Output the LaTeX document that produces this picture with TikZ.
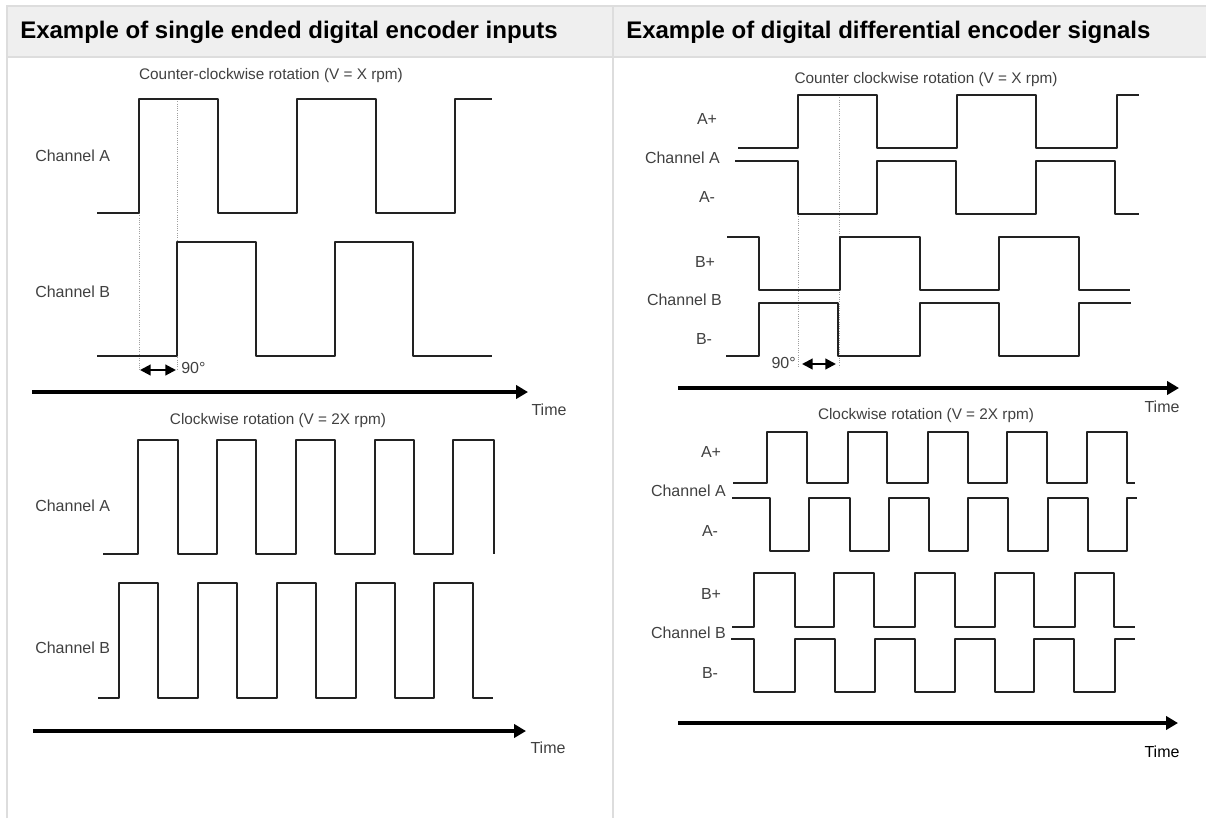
\documentclass[tikz,border=0pt]{standalone}
\usepackage{fontspec}
\setmainfont{Liberation Sans}
\usepackage{tikz}
\usetikzlibrary{arrows.meta, positioning}
\usepackage{xcolor}
\definecolor{gridline}{HTML}{DDDDDD}
\definecolor{headfill}{HTML}{EFEFEF}
\definecolor{wavecol}{HTML}{222222}
\definecolor{labelcol}{HTML}{404040}

\begin{document}
\begin{tikzpicture}[x=0.75pt, y=-0.75pt,
    wave/.style={draw=wavecol, line width=2pt, line join=round},
    dotline/.style={draw=gray!75, line width=0.7pt, densely dotted},
    timeaxis/.style={draw=black, line width=2.5pt, -{Triangle[length=9pt,width=10pt]}},
    phase/.style={draw=black, line width=1.6pt, {Triangle[length=8pt,width=8pt]}-{Triangle[length=8pt,width=8pt]}},
    lbl/.style={inner sep=0pt, text=labelcol, font=\fontsize{12}{14}\selectfont},
    ttl/.style={lbl, font=\fontsize{11.5}{14}\selectfont},
    hdr/.style={inner sep=0pt, anchor=west, font=\fontsize{18}{22}\selectfont\bfseries}]
    \useasboundingbox (0,0) rectangle (1206,818);

    % table frame
    \fill[headfill] (8,7) rectangle (1206,56);
    \draw[gridline, line width=1.5pt] (7,818) -- (7,6) -- (1206,6);
    \draw[gridline, line width=1.5pt] (7,57) -- (1206,57);
    \draw[gridline, line width=1.5pt] (613,6) -- (613,818);
    \node[hdr] (head-se) at (20,32) {Example of single ended digital encoder inputs};
    \node[hdr] (head-df) at (626,32) {Example of digital differential encoder signals};

    % single ended, counter-clockwise
    \node[ttl] (ttl-se-ccw) at (271,76) {Counter-clockwise rotation (V = X rpm)};
    \node[lbl, anchor=west] (se-ccw-a) at (35,156) {Channel A};
    \node[lbl, anchor=west] (se-ccw-b) at (35,292) {Channel B};
    \draw[dotline] (139,213) -- (139,370);
    \draw[dotline] (177,99) -- (177,370);
    \draw[wave] (97,213) -| (139,99) -| (218,213) -| (297,99) -| (376,213) -| (455,99) -- (492,99);
    \draw[wave] (97,356) -| (177,242) -| (256,356) -| (335,242) -| (413,356) -- (492,356);
    \coordinate (se-ccw-p0) at (140,370);
    \coordinate (se-ccw-p1) at (176,370);
    \draw[phase] (se-ccw-p0) -- (se-ccw-p1);
    \node[lbl, anchor=west] (se-ccw-deg) at (181,368) {90°};
    \coordinate (se-ccw-t0) at (32,392);
    \coordinate (se-ccw-t1) at (528,392);
    \draw[timeaxis] (se-ccw-t0) -- (se-ccw-t1);
    \node[lbl] (se-ccw-time) at (549,410) {Time};

    % single ended, clockwise
    \node[ttl] (ttl-se-cw) at (278,421) {Clockwise rotation (V = 2X rpm)};
    \node[lbl, anchor=west] (se-cw-a) at (35,506) {Channel A};
    \node[lbl, anchor=west] (se-cw-b) at (35,648) {Channel B};
    \draw[wave] (103,554) -| (138,440) -| (178,554) -| (217,440) -| (256,554) -| (296,440)
        -| (335,554) -| (375,440) -| (414,554) -| (453,440) -| (494,554);
    \draw[wave] (98,698) -| (119,583) -| (158,698) -| (198,583) -| (237,698) -| (277,583)
        -| (316,698) -| (356,583) -| (395,698) -| (434,583) -| (473,698) -- (493,698);
    \coordinate (se-cw-t0) at (33,731);
    \coordinate (se-cw-t1) at (526,731);
    \draw[timeaxis] (se-cw-t0) -- (se-cw-t1);
    \node[lbl] (se-cw-time) at (548,748) {Time};

    % differential, counter clockwise
    \node[ttl] (ttl-df-ccw) at (926,80) {Counter clockwise rotation (V = X rpm)};
    \node[lbl] (df-ccw-ap) at (707,119) {A+};
    \node[lbl, anchor=east] (df-ccw-a) at (720,158) {Channel A};
    \node[lbl] (df-ccw-am) at (707,197) {A-};
    \node[lbl] (df-ccw-bp) at (705,262) {B+};
    \node[lbl, anchor=east] (df-ccw-b) at (722,300) {Channel B};
    \node[lbl] (df-ccw-bm) at (704,339) {B-};
    \draw[dotline] (798,214) -- (798,367);
    \draw[dotline] (839,95) -- (839,367);
    \draw[wave] (738,148) -| (798,95) -| (877,148) -| (957,95) -| (1036,148) -| (1117,95) -- (1139,95);
    \draw[wave] (735,161) -| (798,214) -| (877,161) -| (956,214) -| (1036,161) -| (1115,214) -- (1139,214);
    \draw[wave] (727,237) -| (759,290) -| (840,237) -| (920,290) -| (999,237) -| (1079,290) -- (1130,290);
    \draw[wave] (726,356) -| (759,303) -| (838,356) -| (920,303) -| (999,356) -| (1079,303) -- (1131,303);
    \coordinate (df-ccw-p0) at (802,364);
    \coordinate (df-ccw-p1) at (836,364);
    \draw[phase] (df-ccw-p0) -- (df-ccw-p1);
    \node[lbl, anchor=east] (df-ccw-deg) at (796,363) {90°};
    \coordinate (df-ccw-t0) at (678,388);
    \coordinate (df-ccw-t1) at (1179,388);
    \draw[timeaxis] (df-ccw-t0) -- (df-ccw-t1);
    \node[lbl] (df-ccw-time) at (1162,407) {Time};

    % differential, clockwise
    \node[ttl] (ttl-df-cw) at (926,416) {Clockwise rotation (V = 2X rpm)};
    \node[lbl] (df-cw-ap) at (711,452) {A+};
    \node[lbl, anchor=east] (df-cw-a) at (726,491) {Channel A};
    \node[lbl] (df-cw-am) at (710,531) {A-};
    \node[lbl] (df-cw-bp) at (711,594) {B+};
    \node[lbl, anchor=east] (df-cw-b) at (726,633) {Channel B};
    \node[lbl] (df-cw-bm) at (710,673) {B-};
    \draw[wave] (733,483) -| (767,432) -| (807,483) -| (848,432) -| (887,483) -| (928,432)
        -| (968,483) -| (1007,432) -| (1047,483) -| (1087,432) -| (1127,483) -- (1135,483);
    \draw[wave] (732,498) -| (770,551) -| (809,498) -| (850,551) -| (889,498) -| (929,551)
        -| (968,498) -| (1008,551) -| (1048,498) -| (1088,551) -| (1127,498) -- (1137,498);
    \draw[wave] (732,627) -| (754,573) -| (795,627) -| (834,573) -| (874,627) -| (915,573)
        -| (955,627) -| (995,573) -| (1034,627) -| (1075,573) -| (1114,627) -- (1135,627);
    \draw[wave] (731,639) -| (754,692) -| (795,639) -| (835,692) -| (875,639) -| (915,692)
        -| (955,639) -| (995,692) -| (1034,639) -| (1074,692) -| (1115,639) -- (1135,639);
    \coordinate (df-cw-t0) at (678,723);
    \coordinate (df-cw-t1) at (1178,723);
    \draw[timeaxis] (df-cw-t0) -- (df-cw-t1);
    \node[lbl, text=black] (df-cw-time) at (1162,752) {Time};
\end{tikzpicture}
\end{document}
